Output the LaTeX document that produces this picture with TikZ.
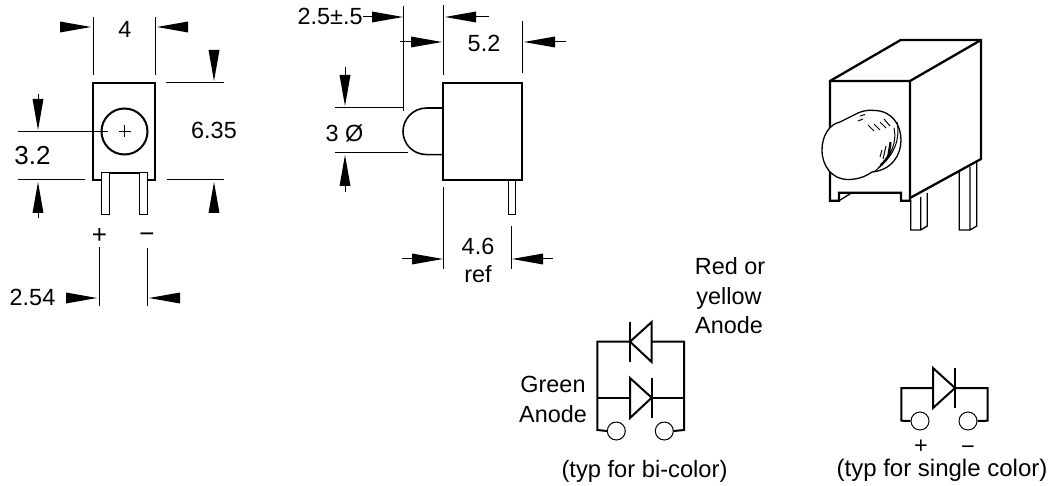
\documentclass[tikz,border=0pt]{standalone}
\usepackage{fontspec}
\setmainfont{Liberation Sans}
\newcommand{\arR}[2]{\fill (#1,#2) -- ++(-31,-5.5) -- ++(0,11) -- cycle;}
\newcommand{\arL}[2]{\fill (#1,#2) -- ++(31,-5.5) -- ++(0,11) -- cycle;}
\newcommand{\arD}[2]{\fill (#1,#2) -- ++(-5.5,-31) -- ++(11,0) -- cycle;}
\newcommand{\arU}[2]{\fill (#1,#2) -- ++(-5.5,31) -- ++(11,0) -- cycle;}
\tikzset{
  lbl/.style={inner sep=0pt,font=\fontsize{23.4}{26}\selectfont},
  lblb/.style={inner sep=0pt,font=\fontsize{23.7}{26}\selectfont},
  lblc/.style={inner sep=0pt,font=\fontsize{24}{26}\selectfont},
  thinl/.style={line width=1pt,draw=black},
  body/.style={line width=2.3pt,line join=miter,draw=black},
  pinl/.style={line width=1pt,draw=black,fill=white},
  term/.style={circle,draw=black,line width=1pt,fill=white,minimum size=18pt,inner sep=0pt},
  wire/.style={line width=2pt,draw=black,line join=miter},
  diode/.style={line width=2pt,draw=black,line join=miter,fill=white}
}
\begin{document}
\begin{tikzpicture}[x=1pt,y=-1pt]
\useasboundingbox (0,0) rectangle (1049,486);
% ---- front view
\draw[body] (101,180) -- (93,180) -- (93,83) -- (155,83) -- (155,180) -- (147,180);
\draw[thinl,line width=1.3pt] (101,173) -- (147,173);
\draw[pinl] (101,173) rectangle (109,215);
\draw[pinl] (139,173) rectangle (147,215);
\draw[line width=2pt] (124.5,131.5) circle (23);
\draw[thinl] (118.5,131.5) -- (130.5,131.5) (124.5,125.5) -- (124.5,137.5);
\draw[thinl] (93,17) -- (93,75) (155,17) -- (155,75);
\arR{91}{27} \arL{157}{27}
\node[lbl] (w4) at (125,29) {4};
\draw[thinl] (166,83) -- (224,83) (167,180) -- (224,180);
\arD{214}{81} \arU{214}{182}
\node[lbl] (h635) at (214,130) {6.35};
\draw[thinl] (18,131.5) -- (108,131.5) (18,180) -- (85,180);
\draw[thinl] (38,94) -- (38,100) (38,212) -- (38,218);
\arD{38}{130} \arU{38}{182}
\node[lbl,font=\fontsize{26}{28}\selectfont] (h32) at (32.5,156) {3.2};
\node[lbl,font=\fontsize{26}{28}\selectfont] (plusa) at (99.5,236) {+};
\node[lbl,font=\fontsize{26}{28}\selectfont] (minusa) at (147,238) {−};
\draw[thinl] (99,247) -- (99,306) (147,248) -- (147,306);
\arR{97}{298} \arL{149}{298}
\node[lbl] (p254) at (32.5,297) {2.54};
% ---- side view
\draw[body] (443,83) rectangle (522,180);
\draw[pinl] (508,181) rectangle (515,215);
\draw[line width=1.6pt] (443,108) -- (427,108) .. controls (412,108) and (403,120) .. (403,131.5) .. controls (403,143) and (412,154.6) .. (427,154.6) -- (443,154.6);
\draw[thinl] (403.7,6) -- (403.7,111) (443.7,5) -- (443.7,75) (522,21) -- (522,73);
\draw[thinl] (363,17) -- (380,17) (470,17) -- (489,17);
\arR{403}{17} \arL{445}{17}
\node[lbl,anchor=west] (d25) at (297.5,16) {2.5±.5};
\draw[thinl] (400,42) -- (415,42) (550,42) -- (566,42);
\arR{442}{42} \arL{524}{42}
\node[lbl] (d52) at (484,43) {5.2};
\draw[thinl] (335,108) -- (404,108) (335,153) -- (408,153);
\draw[thinl] (345,67) -- (345,80) (345,182) -- (345,192);
\arD{345}{106} \arU{345}{155}
\node[lbl] (d3) at (344.5,133) {3 Ø};
\draw[thinl] (443,187) -- (443,269) (511,226) -- (511,269);
\draw[thinl] (402,259) -- (415,259) (540,259) -- (553,259);
\arR{443}{259} \arL{512}{259}
\node[lbl] (d46) at (478,246) {4.6};
\node[lbl] (dref) at (478,274) {ref};
% ---- 3D view
\draw[pinl,line width=1.3pt] (910.7,200) -- (910.7,230) -- (920.7,230) -- (927.3,226) -- (927.3,193) (920.7,230) -- (920.7,197);
\draw[pinl,line width=1.3pt] (959.3,170) -- (959.3,230) -- (970,230) -- (976.7,226) -- (976.7,162) (970,230) -- (970,167);
\draw[body,fill=white] (830,81) -- (900.7,40) -- (981,40) -- (981,159) -- (910,198) -- (910,200.7) -- (901,200.7) -- (901,192.7) -- (839,192.7) -- (839,200.7) -- (830,200.7) -- cycle;
\draw[body] (830,81) -- (910,81) -- (981,40) (910,81) -- (910,198);
\draw[line width=1.3pt] (839,200.7) -- (852,192.7);
\draw[line width=1.3pt,fill=white] (822,150) .. controls (822,135) and (830,124) .. (840,122) -- (858,113) .. controls (865,110) and (870,110) .. (875,110.5) .. controls (892,111) and (901,125) .. (901,140) .. controls (901,155) and (892,170) .. (872,172) .. controls (865,177) and (857,179.5) .. (848,179.5) .. controls (832,179.5) and (822,166) .. (822,150) -- cycle;
\draw[line width=1pt]
  (868,125) -- (874,131) (874,124) -- (880,130) (880,122) -- (886,128) (884,119) -- (890,126)
  (860,116) -- (865,114.5) (858,121) -- (863,119)
  (880,157) -- (882,150) (883,159) -- (886,146) (887,160) -- (890,142)
  (897,122) .. controls (900,138) and (896,155) .. (875,171)
  (894,128) .. controls (897,142) and (892,155) .. (878,168)
  (891,142) .. controls (891,150) and (888,158) .. (880,165);
% ---- bi-color schematic
\node[term] (ga) at (616.3,431) {};
\node[term] (gc) at (664.3,431) {};
\draw[wire] (ga.west) -- (597.3,430) -- (597.3,341.7) -- (630,341.7);
\draw[wire] (651.7,341.7) -- (684,341.7) -- (684,430) -- (gc.east);
\draw[wire] (597.3,397.7) -- (630,397.7) (651.7,397.7) -- (684,397.7);
\draw[diode] (630,341.7) -- (651.7,322) -- (651.7,362) -- cycle;
\draw[wire] (630,322) -- (630,362);
\draw[diode] (651.7,397.7) -- (630,378) -- (630,418) -- cycle;
\draw[wire] (651.7,378) -- (651.7,418);
\node[lbl] (t1) at (730,266) {Red or};
\node[lbl] (t2) at (729,298) {yellow};
\node[lbl] (t3) at (729,325) {Anode};
\node[lbl] (t4) at (553,384) {Green};
\node[lbl] (t5) at (553,414) {Anode};
\node[lblb] (t6) at (644.5,471) {(typ for bi-color)};
% ---- single colour schematic
\node[term] (sa) at (920,421) {};
\node[term] (sc) at (968,421) {};
\draw[wire] (sa.west) -- (901.3,420.7) -- (901.3,388) -- (933,388);
\draw[wire] (955,388) -- (987.7,388) -- (987.7,420.7) -- (sc.east);
\draw[diode] (955,388) -- (933,368) -- (933,408) -- cycle;
\draw[wire] (955,368) -- (955,408);
\node[lbl] (t7) at (921,447) {+};
\node[lbl] (t8) at (968,450) {−};
\node[lblc] (t9) at (942,470) {(typ for single color)};
\end{tikzpicture}
\end{document}
